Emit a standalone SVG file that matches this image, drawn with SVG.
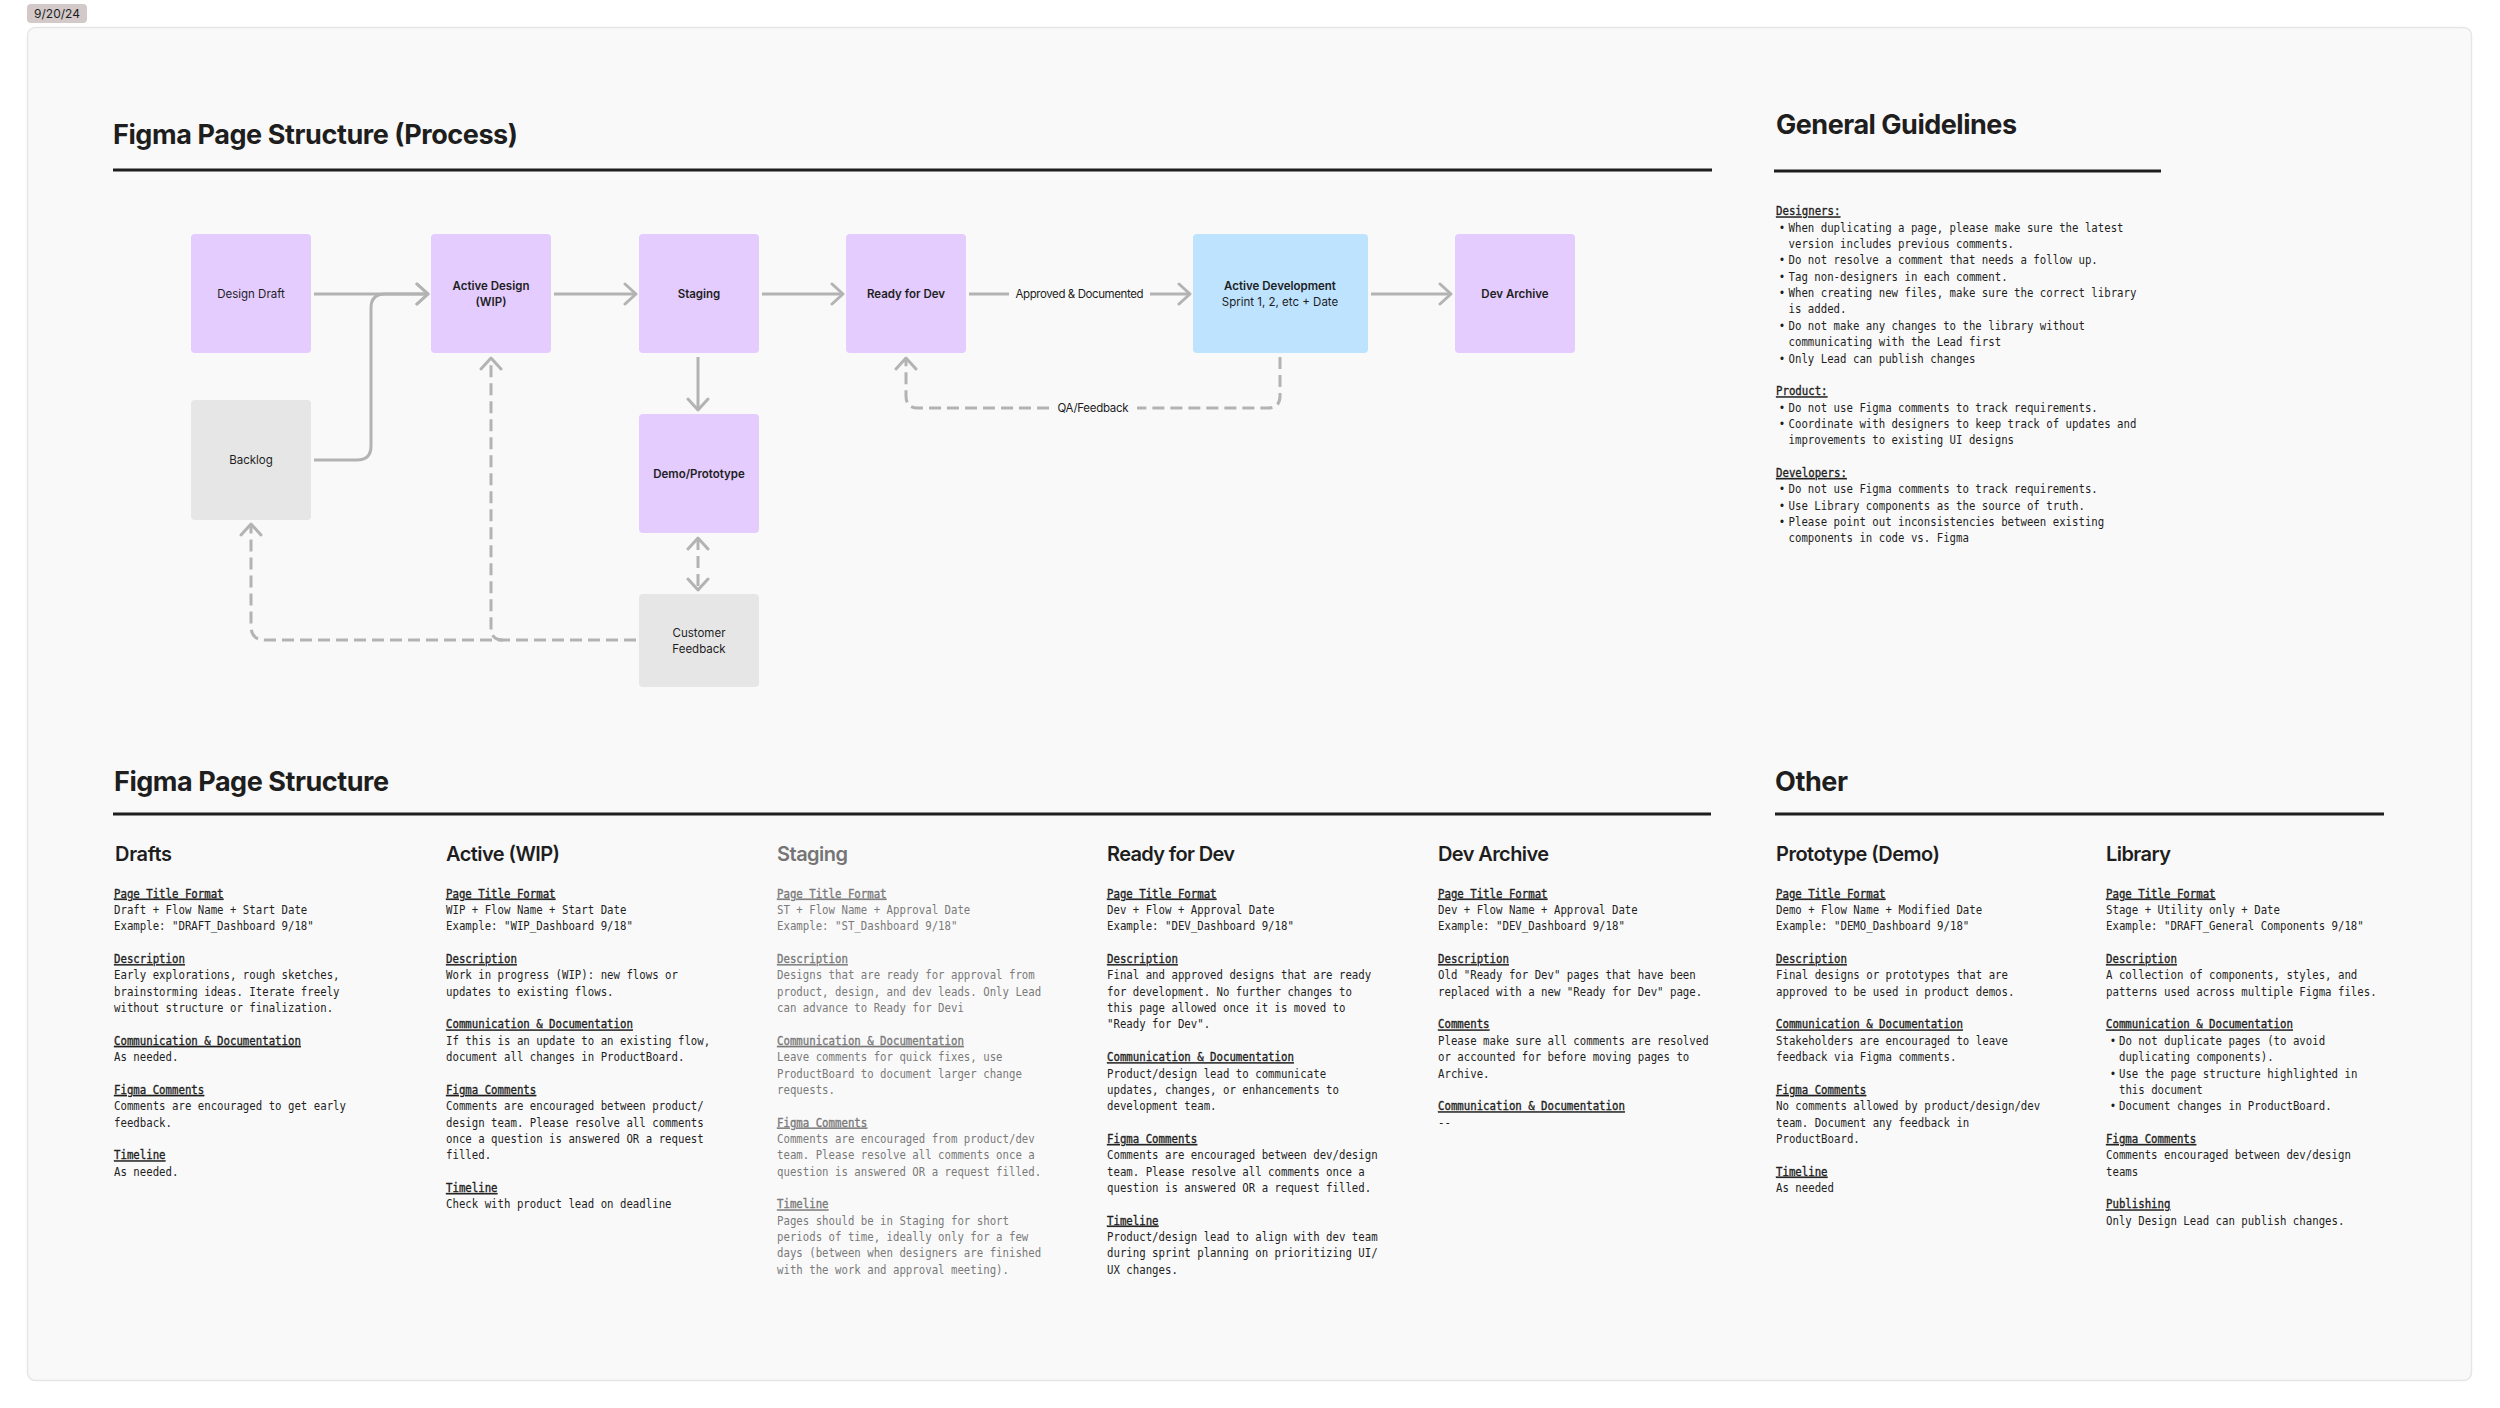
<svg xmlns="http://www.w3.org/2000/svg" width="2500" height="1408" viewBox="0 0 2500 1408">
<style>
.sans{font-family:Inter,"Liberation Sans",sans-serif;fill:#1e1e1e}
.node-label{font-size:11.5px;text-anchor:middle}
.b{font-weight:600}
.h1{font-size:27px;font-weight:700}
.h2{font-size:20px;font-weight:600}
.mono{font-family:"DejaVu Sans Mono","Liberation Mono",monospace;font-size:11.9px;fill:#1e1e1e}
.sub{text-decoration:underline;stroke:#1e1e1e;stroke-width:0.35}
.gray .mono{fill:#7a7a7a}
.gray .sub{stroke:#7a7a7a}
.conn{fill:none;stroke:#b3b3b3;stroke-width:3}
.dash{stroke-dasharray:12 6}
.rule{stroke:#1e1e1e;stroke-width:3}
.purple{fill:#e4ccff}
.blue{fill:#bde3ff}
.grey{fill:#e6e6e6}
</style>
<defs>
<marker id="chev" markerUnits="userSpaceOnUse" viewBox="-14 -12 16 24" markerWidth="16" markerHeight="24" refX="0" refY="0" orient="auto-start-reverse">
<path d="M -11 -10 L 0 0 L -11 10" fill="none" stroke="#b3b3b3" stroke-width="3" stroke-linecap="round" stroke-linejoin="round"/>
</marker>
</defs>
<rect width="2500" height="1408" fill="#ffffff"/>
<rect x="27.5" y="27.5" width="2444" height="1353" rx="8" fill="#f9f9f9" stroke="#e6e6e6" stroke-width="1.5"/>
<g id="date-tag">
<rect x="27" y="4" width="60" height="19" rx="4" fill="#d3c9c9"/>
<text class="sans" x="57" y="18" font-size="12" text-anchor="middle">9/20/24</text>
</g>

<g id="process-title">
<text class="sans h1" x="113" y="144" textLength="405">Figma Page Structure (Process)</text>
<line class="rule" x1="113" y1="170" x2="1712" y2="170"/>
</g>

<g id="connectors">
<path class="conn" d="M 314 294 H 428" marker-end="url(#chev)"/>
<path class="conn" d="M 314 460 H 357 Q 371 460 371 446 V 308 Q 371 294 385 294 H 428" marker-end="url(#chev)"/>
<path class="conn" d="M 554 294 H 636" marker-end="url(#chev)"/>
<path class="conn" d="M 762 294 H 843" marker-end="url(#chev)"/>
<path class="conn" d="M 969 294 H 1009"/>
<path class="conn" d="M 1150 294 H 1190" marker-end="url(#chev)"/>
<text class="sans" x="1079.5" y="298" font-size="11.5" text-anchor="middle" textLength="128">Approved &amp; Documented</text>
<path class="conn" d="M 1371 294 H 1451" marker-end="url(#chev)"/>
<path class="conn" d="M 698 357 V 410" marker-end="url(#chev)"/>
<path class="conn dash" d="M 698 538 V 590" marker-start="url(#chev)" marker-end="url(#chev)"/>
<path class="conn dash" d="M 636 640 H 265 Q 251 640 251 626 V 524" marker-end="url(#chev)"/>
<path class="conn dash" d="M 503 640 Q 491 640 491 628 V 358" marker-end="url(#chev)"/>
<path class="conn dash" d="M 1280 357 V 396 Q 1280 408 1268 408 H 1137"/>
<path class="conn dash" d="M 1049 408 H 918 Q 906 408 906 396 V 358" marker-end="url(#chev)"/>
<text class="sans" x="1093" y="412" font-size="11.5" text-anchor="middle" textLength="71">QA/Feedback</text>
</g>

<g id="node-design-draft">
<rect class="purple" x="191" y="234" width="120" height="119" rx="4"/>
<text class="sans node-label" x="251" y="298">Design Draft</text>
</g>
<g id="node-active-design">
<rect class="purple" x="431" y="234" width="120" height="119" rx="4"/>
<text class="sans node-label b" x="491" y="290">Active Design</text>
<text class="sans node-label b" x="491" y="306">(WIP)</text>
</g>
<g id="node-staging">
<rect class="purple" x="639" y="234" width="120" height="119" rx="4"/>
<text class="sans node-label b" x="699" y="298">Staging</text>
</g>
<g id="node-ready-for-dev">
<rect class="purple" x="846" y="234" width="120" height="119" rx="4"/>
<text class="sans node-label b" x="906" y="298">Ready for Dev</text>
</g>
<g id="node-active-development">
<rect class="blue" x="1193" y="234" width="175" height="119" rx="4"/>
<text class="sans node-label b" x="1280" y="290">Active Development</text>
<text class="sans node-label" x="1280" y="306">Sprint 1, 2, etc + Date</text>
</g>
<g id="node-dev-archive">
<rect class="purple" x="1455" y="234" width="120" height="119" rx="4"/>
<text class="sans node-label b" x="1515" y="298">Dev Archive</text>
</g>
<g id="node-backlog">
<rect class="grey" x="191" y="400" width="120" height="120" rx="4"/>
<text class="sans node-label" x="251" y="464">Backlog</text>
</g>
<g id="node-demo-prototype">
<rect class="purple" x="639" y="414" width="120" height="119" rx="4"/>
<text class="sans node-label b" x="699" y="478">Demo/Prototype</text>
</g>
<g id="node-customer-feedback">
<rect class="grey" x="639" y="594" width="120" height="93" rx="4"/>
<text class="sans node-label" x="699" y="637">Customer</text>
<text class="sans node-label" x="699" y="653">Feedback</text>
</g>

<g id="general-guidelines">
<text class="sans h1" x="1776" y="134" textLength="241">General Guidelines</text>
<line class="rule" x1="1774" y1="171" x2="2161" y2="171"/>
<g transform="translate(1776 0) scale(0.9 1)">
<text class="mono sub" x="0" y="215.4">Designers:</text>
<text class="mono" x="6.7" y="231.8" text-anchor="middle">•</text>
<text class="mono" x="13.9" y="231.8">When duplicating a page, please make sure the latest</text>
<text class="mono" x="13.9" y="248.1">version includes previous comments.</text>
<text class="mono" x="6.7" y="264.5" text-anchor="middle">•</text>
<text class="mono" x="13.9" y="264.5">Do not resolve a comment that needs a follow up.</text>
<text class="mono" x="6.7" y="280.8" text-anchor="middle">•</text>
<text class="mono" x="13.9" y="280.8">Tag non-designers in each comment.</text>
<text class="mono" x="6.7" y="297.2" text-anchor="middle">•</text>
<text class="mono" x="13.9" y="297.2">When creating new files, make sure the correct library</text>
<text class="mono" x="13.9" y="313.5">is added.</text>
<text class="mono" x="6.7" y="329.9" text-anchor="middle">•</text>
<text class="mono" x="13.9" y="329.9">Do not make any changes to the library without</text>
<text class="mono" x="13.9" y="346.2">communicating with the Lead first</text>
<text class="mono" x="6.7" y="362.6" text-anchor="middle">•</text>
<text class="mono" x="13.9" y="362.6">Only Lead can publish changes</text>
<text class="mono sub" x="0" y="395.3">Product:</text>
<text class="mono" x="6.7" y="411.6" text-anchor="middle">•</text>
<text class="mono" x="13.9" y="411.6">Do not use Figma comments to track requirements.</text>
<text class="mono" x="6.7" y="428" text-anchor="middle">•</text>
<text class="mono" x="13.9" y="428">Coordinate with designers to keep track of updates and</text>
<text class="mono" x="13.9" y="444.3">improvements to existing UI designs</text>
<text class="mono sub" x="0" y="477">Developers:</text>
<text class="mono" x="6.7" y="493.4" text-anchor="middle">•</text>
<text class="mono" x="13.9" y="493.4">Do not use Figma comments to track requirements.</text>
<text class="mono" x="6.7" y="509.7" text-anchor="middle">•</text>
<text class="mono" x="13.9" y="509.7">Use Library components as the source of truth.</text>
<text class="mono" x="6.7" y="526.1" text-anchor="middle">•</text>
<text class="mono" x="13.9" y="526.1">Please point out inconsistencies between existing</text>
<text class="mono" x="13.9" y="542.4">components in code vs. Figma</text>
</g>
</g>

<g id="page-structure-title">
<text class="sans h1" x="114" y="791" textLength="275">Figma Page Structure</text>
<line class="rule" x1="113" y1="814" x2="1711" y2="814"/>
</g>
<g id="other-title">
<text class="sans h1" x="1775" y="791" textLength="73">Other</text>
<line class="rule" x1="1775" y1="814" x2="2384" y2="814"/>
</g>

<g id="col-drafts">
<text class="sans h2" x="115" y="861" textLength="57">Drafts</text>
<g transform="translate(114 0) scale(0.9 1)">
<text class="mono sub" x="0" y="897.7">Page Title Format</text>
<text class="mono" x="0" y="914.1">Draft + Flow Name + Start Date</text>
<text class="mono" x="0" y="930.4">Example: "DRAFT_Dashboard 9/18"</text>
<text class="mono sub" x="0" y="963.1">Description</text>
<text class="mono" x="0" y="979.5">Early explorations, rough sketches,</text>
<text class="mono" x="0" y="995.8">brainstorming ideas. Iterate freely</text>
<text class="mono" x="0" y="1012.2">without structure or finalization.</text>
<text class="mono sub" x="0" y="1044.9">Communication &amp; Documentation</text>
<text class="mono" x="0" y="1061.2">As needed.</text>
<text class="mono sub" x="0" y="1093.9">Figma Comments</text>
<text class="mono" x="0" y="1110.3">Comments are encouraged to get early</text>
<text class="mono" x="0" y="1126.6">feedback.</text>
<text class="mono sub" x="0" y="1159.3">Timeline</text>
<text class="mono" x="0" y="1175.7">As needed.</text>
</g>
</g>

<g id="col-active-wip">
<text class="sans h2" x="446" y="861" textLength="114">Active (WIP)</text>
<g transform="translate(446 0) scale(0.9 1)">
<text class="mono sub" x="0" y="897.7">Page Title Format</text>
<text class="mono" x="0" y="914.1">WIP + Flow Name + Start Date</text>
<text class="mono" x="0" y="930.4">Example: "WIP_Dashboard 9/18"</text>
<text class="mono sub" x="0" y="963.1">Description</text>
<text class="mono" x="0" y="979.5">Work in progress (WIP): new flows or</text>
<text class="mono" x="0" y="995.8">updates to existing flows.</text>
<text class="mono sub" x="0" y="1028.5">Communication &amp; Documentation</text>
<text class="mono" x="0" y="1044.9">If this is an update to an existing flow,</text>
<text class="mono" x="0" y="1061.2">document all changes in ProductBoard.</text>
<text class="mono sub" x="0" y="1093.9">Figma Comments</text>
<text class="mono" x="0" y="1110.3">Comments are encouraged between product/</text>
<text class="mono" x="0" y="1126.6">design team. Please resolve all comments</text>
<text class="mono" x="0" y="1143">once a question is answered OR a request</text>
<text class="mono" x="0" y="1159.3">filled.</text>
<text class="mono sub" x="0" y="1192">Timeline</text>
<text class="mono" x="0" y="1208.4">Check with product lead on deadline</text>
</g>
</g>

<g id="col-staging" class="gray">
<text class="sans h2" x="777" y="861" textLength="71" style="fill:#757575">Staging</text>
<g transform="translate(777 0) scale(0.9 1)">
<text class="mono sub" x="0" y="897.7">Page Title Format</text>
<text class="mono" x="0" y="914.1">ST + Flow Name + Approval Date</text>
<text class="mono" x="0" y="930.4">Example: "ST_Dashboard 9/18"</text>
<text class="mono sub" x="0" y="963.1">Description</text>
<text class="mono" x="0" y="979.5">Designs that are ready for approval from</text>
<text class="mono" x="0" y="995.8">product, design, and dev leads. Only Lead</text>
<text class="mono" x="0" y="1012.2">can advance to Ready for Devi</text>
<text class="mono sub" x="0" y="1044.9">Communication &amp; Documentation</text>
<text class="mono" x="0" y="1061.2">Leave comments for quick fixes, use</text>
<text class="mono" x="0" y="1077.6">ProductBoard to document larger change</text>
<text class="mono" x="0" y="1093.9">requests.</text>
<text class="mono sub" x="0" y="1126.6">Figma Comments</text>
<text class="mono" x="0" y="1143">Comments are encouraged from product/dev</text>
<text class="mono" x="0" y="1159.3">team. Please resolve all comments once a</text>
<text class="mono" x="0" y="1175.7">question is answered OR a request filled.</text>
<text class="mono sub" x="0" y="1208.4">Timeline</text>
<text class="mono" x="0" y="1224.7">Pages should be in Staging for short</text>
<text class="mono" x="0" y="1241.1">periods of time, ideally only for a few</text>
<text class="mono" x="0" y="1257.4">days (between when designers are finished</text>
<text class="mono" x="0" y="1273.8">with the work and approval meeting).</text>
</g>
</g>

<g id="col-ready-for-dev">
<text class="sans h2" x="1107" y="861" textLength="128">Ready for Dev</text>
<g transform="translate(1107 0) scale(0.9 1)">
<text class="mono sub" x="0" y="897.7">Page Title Format</text>
<text class="mono" x="0" y="914.1">Dev + Flow + Approval Date</text>
<text class="mono" x="0" y="930.4">Example: "DEV_Dashboard 9/18"</text>
<text class="mono sub" x="0" y="963.1">Description</text>
<text class="mono" x="0" y="979.5">Final and approved designs that are ready</text>
<text class="mono" x="0" y="995.8">for development. No further changes to</text>
<text class="mono" x="0" y="1012.2">this page allowed once it is moved to</text>
<text class="mono" x="0" y="1028.5">"Ready for Dev".</text>
<text class="mono sub" x="0" y="1061.2">Communication &amp; Documentation</text>
<text class="mono" x="0" y="1077.6">Product/design lead to communicate</text>
<text class="mono" x="0" y="1093.9">updates, changes, or enhancements to</text>
<text class="mono" x="0" y="1110.3">development team.</text>
<text class="mono sub" x="0" y="1143">Figma Comments</text>
<text class="mono" x="0" y="1159.3">Comments are encouraged between dev/design</text>
<text class="mono" x="0" y="1175.7">team. Please resolve all comments once a</text>
<text class="mono" x="0" y="1192">question is answered OR a request filled.</text>
<text class="mono sub" x="0" y="1224.7">Timeline</text>
<text class="mono" x="0" y="1241.1">Product/design lead to align with dev team</text>
<text class="mono" x="0" y="1257.4">during sprint planning on prioritizing UI/</text>
<text class="mono" x="0" y="1273.8">UX changes.</text>
</g>
</g>

<g id="col-dev-archive">
<text class="sans h2" x="1438" y="861" textLength="111">Dev Archive</text>
<g transform="translate(1438 0) scale(0.9 1)">
<text class="mono sub" x="0" y="897.7">Page Title Format</text>
<text class="mono" x="0" y="914.1">Dev + Flow Name + Approval Date</text>
<text class="mono" x="0" y="930.4">Example: "DEV_Dashboard 9/18"</text>
<text class="mono sub" x="0" y="963.1">Description</text>
<text class="mono" x="0" y="979.5">Old "Ready for Dev" pages that have been</text>
<text class="mono" x="0" y="995.8">replaced with a new "Ready for Dev" page.</text>
<text class="mono sub" x="0" y="1028.5">Comments</text>
<text class="mono" x="0" y="1044.9">Please make sure all comments are resolved</text>
<text class="mono" x="0" y="1061.2">or accounted for before moving pages to</text>
<text class="mono" x="0" y="1077.6">Archive.</text>
<text class="mono sub" x="0" y="1110.3">Communication &amp; Documentation</text>
<text class="mono" x="0" y="1126.6">--</text>
</g>
</g>

<g id="col-prototype-demo">
<text class="sans h2" x="1776" y="861" textLength="164">Prototype (Demo)</text>
<g transform="translate(1776 0) scale(0.9 1)">
<text class="mono sub" x="0" y="897.7">Page Title Format</text>
<text class="mono" x="0" y="914.1">Demo + Flow Name + Modified Date</text>
<text class="mono" x="0" y="930.4">Example: "DEMO_Dashboard 9/18"</text>
<text class="mono sub" x="0" y="963.1">Description</text>
<text class="mono" x="0" y="979.5">Final designs or prototypes that are</text>
<text class="mono" x="0" y="995.8">approved to be used in product demos.</text>
<text class="mono sub" x="0" y="1028.5">Communication &amp; Documentation</text>
<text class="mono" x="0" y="1044.9">Stakeholders are encouraged to leave</text>
<text class="mono" x="0" y="1061.2">feedback via Figma comments.</text>
<text class="mono sub" x="0" y="1093.9">Figma Comments</text>
<text class="mono" x="0" y="1110.3">No comments allowed by product/design/dev</text>
<text class="mono" x="0" y="1126.6">team. Document any feedback in</text>
<text class="mono" x="0" y="1143">ProductBoard.</text>
<text class="mono sub" x="0" y="1175.7">Timeline</text>
<text class="mono" x="0" y="1192">As needed</text>
</g>
</g>

<g id="col-library">
<text class="sans h2" x="2106" y="861" textLength="65">Library</text>
<g transform="translate(2106 0) scale(0.9 1)">
<text class="mono sub" x="0" y="897.7">Page Title Format</text>
<text class="mono" x="0" y="914.1">Stage + Utility only + Date</text>
<text class="mono" x="0" y="930.4">Example: "DRAFT_General Components 9/18"</text>
<text class="mono sub" x="0" y="963.1">Description</text>
<text class="mono" x="0" y="979.5">A collection of components, styles, and</text>
<text class="mono" x="0" y="995.8">patterns used across multiple Figma files.</text>
<text class="mono sub" x="0" y="1028.5">Communication &amp; Documentation</text>
<text class="mono" x="7.8" y="1044.9" text-anchor="middle">•</text>
<text class="mono" x="14.4" y="1044.9">Do not duplicate pages (to avoid</text>
<text class="mono" x="14.4" y="1061.2">duplicating components).</text>
<text class="mono" x="7.8" y="1077.6" text-anchor="middle">•</text>
<text class="mono" x="14.4" y="1077.6">Use the page structure highlighted in</text>
<text class="mono" x="14.4" y="1093.9">this document</text>
<text class="mono" x="7.8" y="1110.3" text-anchor="middle">•</text>
<text class="mono" x="14.4" y="1110.3">Document changes in ProductBoard.</text>
<text class="mono sub" x="0" y="1143">Figma Comments</text>
<text class="mono" x="0" y="1159.3">Comments encouraged between dev/design</text>
<text class="mono" x="0" y="1175.7">teams</text>
<text class="mono sub" x="0" y="1208.4">Publishing</text>
<text class="mono" x="0" y="1224.7">Only Design Lead can publish changes.</text>
</g>
</g>
</svg>
